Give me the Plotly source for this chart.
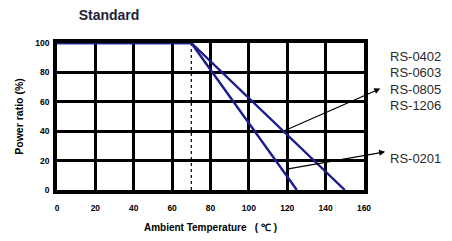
import plotly.graph_objects as go

# Data
temp_0201 = [0, 70, 125]
ratio_0201 = [100, 100, 0]
temp_others = [0, 70, 150]
ratio_others = [100, 100, 0]
rated_temp = 70
x_ticks = [0, 20, 40, 60, 80, 100, 120, 140, 160]
y_ticks = [0, 20, 40, 60, 80, 100]
group_labels = ["RS-0402", "RS-0603", "RS-0805", "RS-1206"]
single_label = "RS-0201"

LINE = "#1c1c8a"
TXT = "#2a2a2a"
FONT = "Liberation Sans, Arial, sans-serif"

# page has an 8px body margin: figure is placed at (8, 8)
W, H = 444, 233

fig = go.Figure()
fig.add_trace(go.Scatter(x=[rated_temp, rated_temp], y=[0, 100], mode="lines",
                         line=dict(color="black", width=1.2, dash="dot"), hoverinfo="skip"))
fig.add_trace(go.Scatter(x=temp_others, y=ratio_others, mode="lines", cliponaxis=False,
                         line=dict(color=LINE, width=2.4)))
fig.add_trace(go.Scatter(x=temp_0201, y=ratio_0201, mode="lines", cliponaxis=False,
                         line=dict(color=LINE, width=2.4)))

# Arrows (tail on curve, head near label)
fig.add_annotation(x=168.5, y=69, ax=118, ay=40, axref="x", ayref="y", xref="x", yref="y",
                   showarrow=True, arrowhead=2, arrowsize=1, arrowwidth=1.2,
                   arrowcolor="black", text="")
fig.add_annotation(x=171, y=26, ax=119, ay=14, axref="x", ayref="y", xref="x", yref="y",
                   showarrow=True, arrowhead=2, arrowsize=1, arrowwidth=1.2,
                   arrowcolor="black", text="")

label_y = [0.905, 0.800, 0.687, 0.578]
for lab, yy in zip(group_labels, label_y):
    fig.add_annotation(x=1.078, y=yy, xref="paper", yref="paper", text=lab,
                       showarrow=False, xanchor="left", yanchor="middle",
                       font=dict(family=FONT, size=13, color=TXT))
fig.add_annotation(x=1.078, y=0.211, xref="paper", yref="paper", text=single_label,
                   showarrow=False, xanchor="left", yanchor="middle",
                   font=dict(family=FONT, size=13, color=TXT))

fig.update_layout(
    width=W, height=H, autosize=False,
    margin=dict(l=49, r=88, t=35, b=51, pad=0, autoexpand=False),
    paper_bgcolor="white", plot_bgcolor="white",
    showlegend=False,
    title=dict(text="<b>Standard</b>", xref="container", yref="container",
               x=101/W, y=1-7/H, xanchor="center", yanchor="middle",
               font=dict(family=FONT, size=14, color="#1e1e38")),
    xaxis=dict(range=[0, 160], tickvals=x_ticks, showgrid=True, gridcolor="black",
               gridwidth=2.5, showline=True, linecolor="black", linewidth=3.5, mirror=True,
               zeroline=False, ticks="", ticklabelstandoff=7, layer="below traces",
               automargin=False,
               tickfont=dict(family=FONT, size=8.5, color="black", weight="bold"),
               title=dict(text="Ambient Temperature   ( ℃ )", standoff=13,
                          font=dict(family=FONT, size=10, color="black", weight="bold"))),
    yaxis=dict(range=[0, 100], tickvals=y_ticks, showgrid=True, gridcolor="black",
               gridwidth=2.5, showline=True, linecolor="black", linewidth=3.5, mirror=True,
               zeroline=False, ticks="", ticklabelstandoff=2, layer="below traces",
               automargin=False,
               tickfont=dict(family=FONT, size=8.5, color="black", weight="bold"),
               title=dict(text="Power ratio (%)", standoff=11,
                          font=dict(family=FONT, size=10.5, color="black", weight="bold"))),
)

fig.write_html("out.html")
